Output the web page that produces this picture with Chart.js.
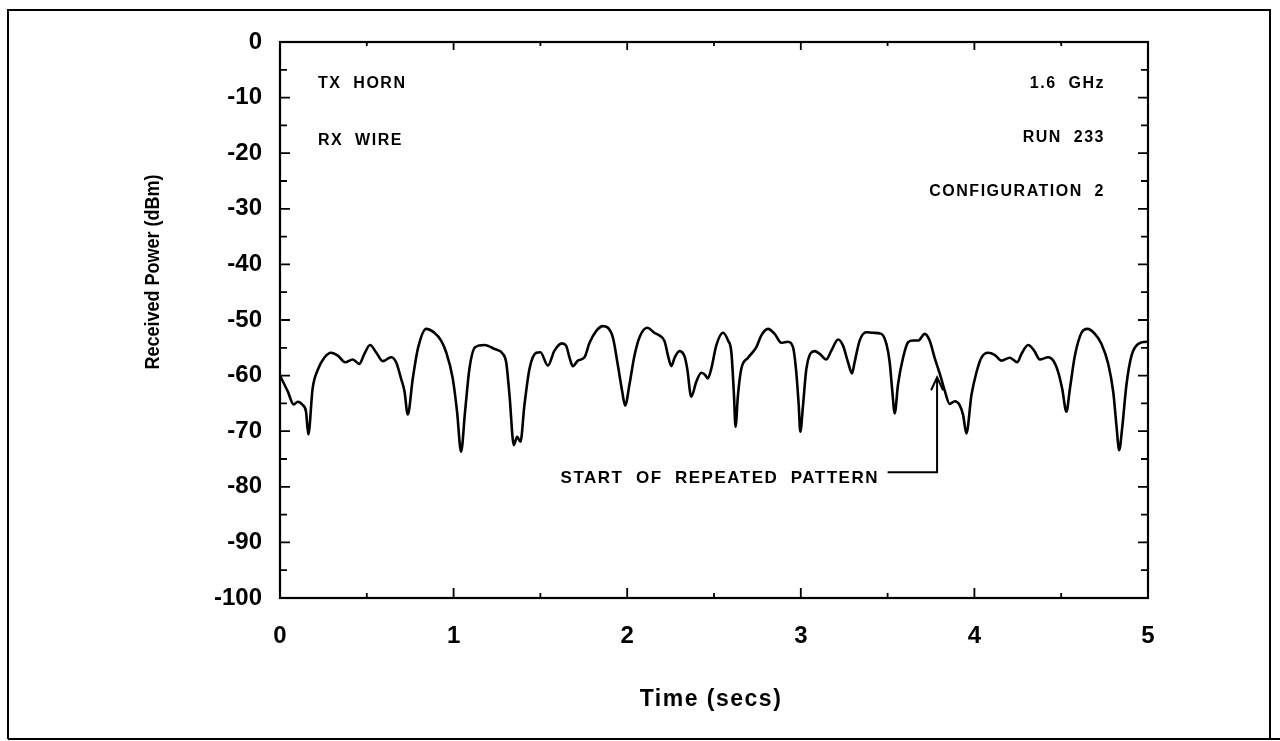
<!DOCTYPE html>
<html>
<head>
<meta charset="utf-8">
<script src="https://cdn.jsdelivr.net/npm/chart.js@4/dist/chart.umd.min.js"></script>
<style>
  html, body { margin: 0; padding: 0; background: #ffffff; }
  #wrap { position: relative; width: 1280px; height: 741px; }
</style>
</head>
<body>
<div id="wrap"><canvas id="c" width="1280" height="741"></canvas></div>
<script>
// ---- data ----
const timeSecs = [
  0.000, 0.044, 0.079, 0.102, 0.131, 0.150, 0.163, 0.188, 0.217, 0.255,
  0.294, 0.333, 0.375, 0.419, 0.457, 0.486, 0.519, 0.553, 0.592, 0.640,
  0.669, 0.697, 0.717, 0.736, 0.765, 0.794, 0.842, 0.889, 0.928, 0.957,
  0.995, 1.020, 1.043, 1.066, 1.091, 1.124, 1.178, 1.235, 1.284, 1.303,
  1.322, 1.347, 1.366, 1.385, 1.408, 1.437, 1.476, 1.500, 1.543, 1.581,
  1.624, 1.648, 1.668, 1.687, 1.716, 1.754, 1.783, 1.821, 1.860, 1.889,
  1.918, 1.946, 1.971, 1.988, 2.013, 2.042, 2.071, 2.115, 2.157, 2.186,
  2.215, 2.235, 2.254, 2.273, 2.301, 2.331, 2.346, 2.369, 2.398, 2.427,
  2.446, 2.465, 2.484, 2.513, 2.552, 2.581, 2.600, 2.615, 2.624, 2.638,
  2.657, 2.696, 2.744, 2.772, 2.811, 2.849, 2.888, 2.926, 2.955, 2.974,
  2.988, 2.997, 3.013, 3.032, 3.080, 3.109, 3.147, 3.176, 3.215, 3.243,
  3.272, 3.295, 3.310, 3.339, 3.378, 3.416, 3.464, 3.493, 3.512, 3.526,
  3.541, 3.560, 3.589, 3.618, 3.647, 3.676, 3.714, 3.742, 3.771, 3.800,
  3.829, 3.858, 3.887, 3.915, 3.935, 3.954, 3.983, 4.012, 4.040, 4.079,
  4.118, 4.156, 4.204, 4.248, 4.271, 4.310, 4.344, 4.377, 4.425, 4.454,
  4.483, 4.506, 4.530, 4.550, 4.579, 4.617, 4.651, 4.694, 4.732, 4.771,
  4.800, 4.818, 4.834, 4.851, 4.876, 4.905, 4.943, 4.991, 5.000
];
const receivedPowerDbm = [
  -60.0, -62.8, -65.2, -64.7, -65.3, -66.5, -70.6, -62.3, -59.0, -56.8,
  -55.9, -56.4, -57.6, -57.1, -57.9, -56.1, -54.5, -55.8, -57.4, -56.7,
  -57.6, -60.5, -62.8, -67.0, -60.5, -55.2, -51.6, -52.3, -53.7, -55.8,
  -60.5, -66.5, -73.7, -66.5, -58.8, -54.9, -54.5, -55.2, -56.1, -57.6,
  -63.5, -72.5, -71.0, -71.9, -65.3, -58.8, -55.9, -55.8, -58.2, -55.5,
  -54.2, -54.6, -56.8, -58.3, -57.3, -56.7, -54.1, -52.0, -51.1, -51.4,
  -53.2, -58.1, -62.8, -65.4, -61.6, -56.4, -53.1, -51.4, -52.3, -52.8,
  -53.8, -56.4, -58.3, -56.8, -55.6, -56.6, -58.8, -63.8, -61.1, -59.5,
  -59.8, -60.5, -58.8, -54.6, -52.3, -53.7, -55.8, -63.5, -69.2, -63.5,
  -58.8, -56.8, -54.9, -52.8, -51.6, -52.5, -54.1, -53.9, -54.9, -59.4,
  -65.3, -70.1, -65.3, -58.8, -55.6, -56.1, -57.1, -55.5, -53.5, -54.6,
  -57.6, -59.6, -57.6, -53.7, -52.2, -52.3, -52.5, -54.3, -57.6, -62.4,
  -66.8, -61.6, -56.8, -54.0, -53.7, -53.7, -52.5, -53.7, -56.8, -59.6,
  -62.7, -65.1, -64.6, -65.3, -67.1, -70.4, -63.5, -59.4, -56.8, -55.9,
  -56.3, -57.3, -56.8, -57.6, -56.1, -54.5, -55.5, -57.1, -56.7, -57.3,
  -59.4, -62.4, -66.5, -62.4, -56.4, -52.3, -51.6, -52.5, -54.3, -57.9,
  -63.0, -68.9, -73.4, -69.5, -61.6, -56.4, -54.3, -53.9, -53.9
];
const xTickValues = [0, 1, 2, 3, 4, 5];
const yTickValues = [0, -10, -20, -30, -40, -50, -60, -70, -80, -90, -100];
const xAxisTitle = 'Time (secs)';
const yAxisTitle = 'Received Power (dBm)';
const leftNotes = ['TX  HORN', 'RX  WIRE'];
const rightNotes = ['1.6  GHz', 'RUN  233', 'CONFIGURATION  2'];
const arrowNote = 'START  OF  REPEATED  PATTERN';
const arrowTip = { x: 3.785, y: -60.3 };
const arrowElbow = { x: 3.785, y: -77.4 };
const arrowTail = { x: 3.50, y: -77.4 };

const FONT = '"Liberation Sans", Arial, Helvetica, sans-serif';

const decor = {
  id: 'decor',
  afterDraw(chart) {
    const ctx = chart.ctx;
    const a = chart.chartArea;
    const xs = chart.scales.x, ys = chart.scales.y;
    ctx.save();
    ctx.strokeStyle = '#000';
    ctx.fillStyle = '#000';
    // outer frame
    ctx.lineWidth = 2;
    ctx.beginPath();
    ctx.moveTo(8, 739); ctx.lineTo(8, 10); ctx.lineTo(1270, 10); ctx.lineTo(1270, 739);
    ctx.moveTo(8, 739); ctx.lineTo(1280, 739);
    ctx.stroke();
    // plot box
    ctx.lineWidth = 2.2;
    ctx.strokeRect(a.left, a.top, a.right - a.left, a.bottom - a.top);
    // inward ticks
    ctx.lineWidth = 1.8;
    ctx.beginPath();
    for (let v = 0; v >= -100; v -= 5) {
      const py = ys.getPixelForValue(v);
      const major = (v % 10 === 0);
      const L = major ? 10 : 7;
      ctx.moveTo(a.left, py); ctx.lineTo(a.left + L, py);
      ctx.moveTo(a.right, py); ctx.lineTo(a.right - L, py);
    }
    for (let t = 0; t <= 5.0001; t += 0.5) {
      const px = xs.getPixelForValue(t);
      const major = Math.abs(t - Math.round(t)) < 1e-6;
      ctx.moveTo(px, a.bottom); ctx.lineTo(px, a.bottom - (major ? 10 : 5));
      ctx.moveTo(px, a.top); ctx.lineTo(px, a.top + (major ? 8 : 4));
    }
    ctx.stroke();

    // notes
    ctx.font = 'bold 16px ' + FONT;
    ctx.letterSpacing = '1.5px';
    ctx.textBaseline = 'middle';
    ctx.textAlign = 'left';
    ctx.fillText(leftNotes[0], 318, 84);
    ctx.fillText(leftNotes[1], 318, 141);
    ctx.textAlign = 'right';
    ctx.fillText(rightNotes[0], 1105, 84);
    ctx.fillText(rightNotes[1], 1105, 138);
    ctx.fillText(rightNotes[2], 1105, 192);

    // arrow annotation
    ctx.font = 'bold 17px ' + FONT;
    ctx.letterSpacing = '1.5px';
    ctx.textAlign = 'right';
    ctx.fillText(arrowNote, 879, 478);
    const tx = xs.getPixelForValue(arrowTip.x), ty = ys.getPixelForValue(arrowTip.y);
    const ex = xs.getPixelForValue(arrowElbow.x), ey = ys.getPixelForValue(arrowElbow.y);
    const lx = xs.getPixelForValue(arrowTail.x), ly = ys.getPixelForValue(arrowTail.y);
    ctx.lineWidth = 2;
    ctx.beginPath();
    ctx.moveTo(lx, ly); ctx.lineTo(ex, ey); ctx.lineTo(tx, ty);
    ctx.moveTo(tx - 6, ty + 13); ctx.lineTo(tx, ty); ctx.lineTo(tx + 6, ty + 13);
    ctx.stroke();

    // axis titles
    ctx.letterSpacing = '1.5px';
    ctx.font = 'bold 23px ' + FONT;
    ctx.textAlign = 'center';
    ctx.textBaseline = 'middle';
    ctx.fillText(xAxisTitle, 711, 700);
    ctx.save();
    ctx.translate(153, 272);
    ctx.rotate(-Math.PI / 2);
    ctx.scale(0.9, 1);
    ctx.letterSpacing = '0px';
    ctx.font = 'bold 20px ' + FONT;
    ctx.fillText(yAxisTitle, 0, 0);
    ctx.restore();
    ctx.restore();
  }
};

const points = timeSecs.map((t, i) => ({ x: t, y: receivedPowerDbm[i] }));

new Chart(document.getElementById('c'), {
  type: 'line',
  data: {
    datasets: [{
      data: points,
      borderColor: '#000',
      borderWidth: 2.6,
      pointRadius: 0,
      cubicInterpolationMode: 'monotone',
      fill: false
    }]
  },
  options: {
    responsive: false,
    animation: false,
    events: [],
    layout: { padding: { left: 0, top: 42, right: 132, bottom: 0 } },
    plugins: { legend: { display: false }, tooltip: { enabled: false }, title: { display: false } },
    scales: {
      x: {
        type: 'linear', min: 0, max: 5,
        afterFit(s) { s.height = 143; },
        afterBuildTicks(s) { s.ticks = xTickValues.map(v => ({ value: v })); },
        grid: { display: false, drawTicks: false },
        border: { display: false },
        ticks: {
          color: '#000', padding: 24, maxRotation: 0,
          font: { family: FONT, size: 24, weight: 'bold' },
          callback: v => String(v)
        }
      },
      y: {
        type: 'linear', min: -100, max: 0,
        afterFit(s) { s.width = 280; },
        afterBuildTicks(s) { s.ticks = yTickValues.map(v => ({ value: v })); },
        grid: { display: false, drawTicks: false },
        border: { display: false },
        ticks: {
          color: '#000', padding: 18,
          font: { family: FONT, size: 24, weight: 'bold' },
          callback: v => String(v)
        }
      }
    }
  },
  plugins: [decor]
});
</script>
</body>
</html>
